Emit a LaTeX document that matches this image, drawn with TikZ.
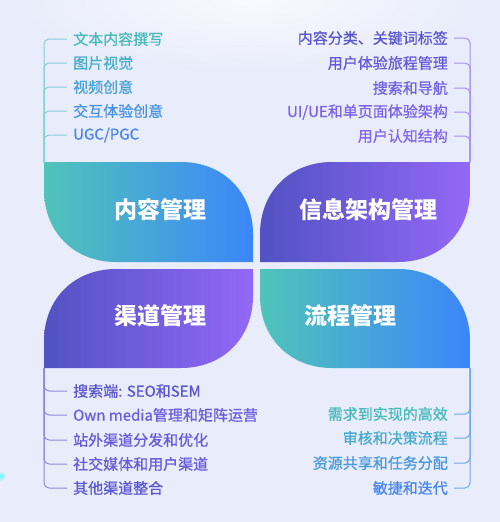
\documentclass[tikz,border=0pt]{standalone}
\usepackage{fontspec}
\setmainfont{Noto Sans CJK SC}
\newfontfamily\itemfont{Noto Sans CJK SC}[FakeBold=0.7]
\usepackage{xcolor}
\usepackage{tikz}
\usetikzlibrary{positioning, calc}
\definecolor{bgblue}{RGB}{233, 237, 251}
\definecolor{tealpet}{RGB}{80, 196, 185}
\definecolor{bluepet}{RGB}{60, 134, 249}
\definecolor{indigopet}{RGB}{82, 82, 194}
\definecolor{violetpet}{RGB}{147, 104, 247}
\definecolor{tealtxt}{RGB}{72, 186, 186}
\definecolor{bluetxt}{RGB}{72, 134, 238}
\definecolor{indigotxt}{RGB}{90, 86, 208}
\definecolor{violettxt}{RGB}{132, 102, 238}
\definecolor{tealline}{RGB}{130, 208, 218}
\definecolor{violetline}{RGB}{165, 145, 240}
\definecolor{indigoline}{RGB}{140, 136, 222}
\definecolor{blueline}{RGB}{112, 166, 240}

\begin{document}
\begin{tikzpicture}[x=1pt, y=-1pt,
    item/.style={font=\itemfont\fontsize{15}{18}\selectfont, inner sep=3pt},
    title/.style={text=white, font=\fontsize{23}{26}\selectfont\bfseries},
    twig/.style={line width=1pt, rounded corners=5pt, shorten >=3pt}]
        \useasboundingbox (0,0) rectangle (500,522);
        \fill[bgblue] (0,0) rectangle (500,522);
        \begin{scope}
          \clip (0,0) rectangle (500,522);
          \shade[inner color=white!70!bgblue, outer color=bgblue] (250,0) ellipse [x radius=230, y radius=70];
          \shade[inner color=cyan!60!bgblue, outer color=bgblue] (1,476) circle [radius=5];
        \end{scope}
        % petals
        \shade[left color=tealpet, right color=bluepet] (44,162) -- (181,162) .. controls (223,162) and (253,192) .. (253,234) -- (253,262) -- (116,262) .. controls (74,262) and (44,232) .. (44,190) -- cycle;
        \shade[left color=indigopet, right color=violetpet] (470,162) -- (470,190) .. controls (470,232) and (440,262) .. (398,262) -- (260,262) -- (260,234) .. controls (260,192) and (290,162) .. (332,162) -- cycle;
        \shade[left color=indigopet, right color=violetpet] (253,269) -- (253,296) .. controls (253,338) and (223,368) .. (181,368) -- (44,368) -- (44,341) .. controls (44,299) and (74,269) .. (116,269) -- cycle;
        \shade[left color=tealpet, right color=bluepet] (260,269) -- (398,269) .. controls (440,269) and (470,299) .. (470,341) -- (470,368) -- (332,368) .. controls (290,368) and (260,338) .. (260,296) -- cycle;
        \node[title] (ct) at (160,210) {内容管理};
        \node[title] (ia) at (368,210) {信息架构管理};
        \node[title] (ch) at (160,316) {渠道管理};
        \node[title] (fl) at (350,316) {流程管理};
        \coordinate (croot) at (44,162);
        \coordinate (iroot) at (470,162);
        \coordinate (hroot) at (44,368);
        \coordinate (froot) at (470,368);
        % content
        \node[item, anchor=west, text=tealtxt]             (c1) at (70,39)  {文本内容撰写};
        \node[item, anchor=west, text=bluetxt!25!tealtxt]  (c2) at (70,63)  {图片视觉};
        \node[item, anchor=west, text=bluetxt!50!tealtxt]  (c3) at (70,87)  {视频创意};
        \node[item, anchor=west, text=bluetxt!75!tealtxt]  (c4) at (70,111) {交互体验创意};
        \node[item, anchor=west, text=bluetxt]             (c5) at (70,135) {UGC/PGC};
        % information architecture
        \node[item, anchor=east, text=indigotxt]              (i1) at (451,38)  {内容分类、关键词标签};
        \node[item, anchor=east, text=violettxt!25!indigotxt] (i2) at (451,63)  {用户体验旅程管理};
        \node[item, anchor=east, text=violettxt!50!indigotxt] (i3) at (451,88)  {搜索和导航};
        \node[item, anchor=east, text=violettxt!75!indigotxt] (i4) at (451,112) {UI/UE和单页面体验架构};
        \node[item, anchor=east, text=violettxt]              (i5) at (451,136) {用户认知结构};
        % channels
        \node[item, anchor=west, text=indigotxt]              (h1) at (70,391) {搜索端: SEO和SEM};
        \node[item, anchor=west, text=violettxt!45!indigotxt] (h2) at (70,415) {Own media管理和矩阵运营};
        \node[item, anchor=west, text=violettxt!30!indigotxt] (h3) at (70,440) {站外渠道分发和优化};
        \node[item, anchor=west, text=violettxt!30!indigotxt] (h4) at (70,464) {社交媒体和用户渠道};
        \node[item, anchor=west, text=indigotxt]              (h5) at (70,488) {其他渠道整合};
        % flow
        \node[item, anchor=east, text=tealtxt]            (f1) at (451,414) {需求到实现的高效};
        \node[item, anchor=east, text=bluetxt!33!tealtxt] (f2) at (451,438) {审核和决策流程};
        \node[item, anchor=east, text=bluetxt!66!tealtxt] (f3) at (451,463) {资源共享和任务分配};
        \node[item, anchor=east, text=bluetxt]            (f4) at (451,488) {敏捷和迭代};
        \foreach \n in {c1,c2,c3,c4,c5} \draw[twig, tealline] (croot) |- (\n.west);
        \foreach \n in {i1,i2,i3,i4,i5} \draw[twig, violetline] (iroot) |- (\n.east);
        \foreach \n in {h1,h2,h3,h4,h5} \draw[twig, indigoline] (hroot) |- (\n.west);
        \foreach \n in {f1,f2,f3,f4} \draw[twig, blueline] (froot) |- (\n.east);
      \end{tikzpicture}
\end{document}
